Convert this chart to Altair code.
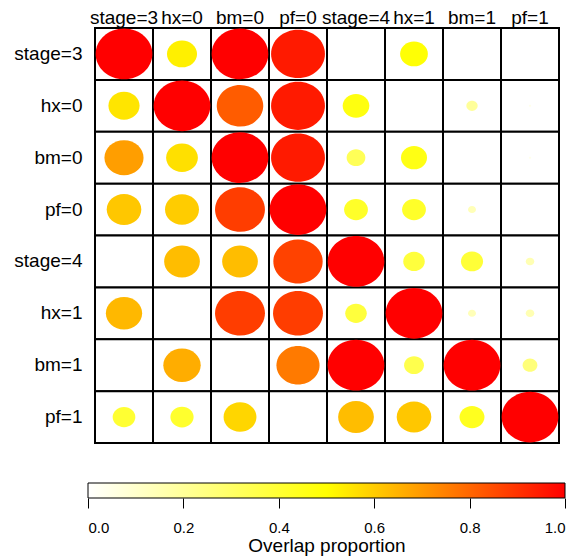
import altair as alt
import pandas as pd

labels = ["stage=3", "hx=0", "bm=0", "pf=0", "stage=4", "hx=1", "bm=1", "pf=1"]

row_stage3 = [1.00, 0.53, 1.00, 0.95, 0.00, 0.49, 0.00, 0.02]
row_hx0 = [0.55, 1.00, 0.82, 0.95, 0.47, 0.00, 0.20, 0.04]
row_bm0 = [0.69, 0.56, 1.00, 0.95, 0.33, 0.46, 0.00, 0.04]
row_pf0 = [0.61, 0.60, 0.88, 1.00, 0.42, 0.42, 0.14, 0.00]
row_stage4 = [0.00, 0.63, 0.63, 0.87, 1.00, 0.38, 0.39, 0.15]
row_hx1 = [0.64, 0.00, 0.88, 0.88, 0.38, 1.00, 0.14, 0.15]
row_bm1 = [0.00, 0.66, 0.00, 0.76, 1.00, 0.35, 1.00, 0.26]
row_pf1 = [0.40, 0.41, 0.58, 0.00, 0.63, 0.61, 0.44, 1.00]

matrix = [row_stage3, row_hx0, row_bm0, row_pf0, row_stage4, row_hx1, row_bm1, row_pf1]

color_domain = [0.0, 0.5, 1.0]
color_range = ["#FFFFFF", "#FFFF00", "#FF0000"]
legend_ticks = [0.0, 0.2, 0.4, 0.6, 0.8, 1.0]

records = []
for r, rl in enumerate(labels):
    for c, cl in enumerate(labels):
        records.append({"row": rl, "col": cl, "value": matrix[r][c]})
df = pd.DataFrame(records)

FONT = "Liberation Sans"
ellipse = "M-1,0 A1,0.894 0 1,1 1,0 A1,0.894 0 1,1 -1,0 Z"

xenc = alt.X("col:N", sort=labels, scale=alt.Scale(paddingInner=0, paddingOuter=0),
             axis=alt.Axis(orient="top", title=None, domain=False, ticks=False, labelAngle=0,
                           labelFontSize=19, labelFont=FONT, labelColor="black",
                           labelPadding=1, labelOverlap=False, labelBound=False))
yenc = alt.Y("row:N", sort=labels, scale=alt.Scale(paddingInner=0, paddingOuter=0),
             axis=alt.Axis(title=None, domain=False, ticks=False, labelFontSize=19,
                           labelFont=FONT, labelColor="black", labelPadding=13))

base = alt.Chart(df)
cells = base.mark_rect(fill="white", stroke="black", strokeWidth=2).encode(x=xenc, y=yenc)
dots = base.mark_point(filled=True, opacity=1, strokeWidth=0, shape=ellipse).encode(
    x=alt.X("col:N", sort=labels),
    y=alt.Y("row:N", sort=labels),
    color=alt.Color("value:Q", scale=alt.Scale(domain=color_domain, range=color_range,
                                                interpolate="rgb"), legend=None),
    size=alt.Size("value:Q", scale=alt.Scale(type="pow", exponent=2, domain=[0, 1],
                                              range=[0, 3215]), legend=None),
)
main = alt.layer(cells, dots).properties(width=464, height=415)

bar_df = pd.DataFrame({"lo": [legend_ticks[0]], "hi": [legend_ticks[-1]]})
grad = alt.Gradient(
    gradient="linear",
    stops=[alt.GradientStop(color=col, offset=off) for col, off in zip(color_range, color_domain)],
    x1=0, x2=1, y1=0, y2=0,
)
colorbar = alt.Chart(bar_df).mark_rect(fill=grad, stroke="black", strokeWidth=1).encode(
    x=alt.X("lo:Q", scale=alt.Scale(domain=[0, 1], range=[-7, 470], nice=False, zero=False),
            axis=alt.Axis(values=legend_ticks, format=".1f", domain=False, grid=False,
                          tickSize=10, tickColor="black", tickWidth=1,
                          labelFontSize=15, labelFont=FONT, labelColor="black", labelPadding=12,
                          title="Overlap proportion", titleFontSize=19, titleFont=FONT,
                          titleFontWeight="normal", titleColor="black", titlePadding=1)),
    x2="hi:Q",
).properties(width=464, height=15)

chart = alt.vconcat(main, colorbar, spacing=38).properties(
    padding={"left": 13, "top": 8, "right": 5, "bottom": 5}
).configure_view(stroke=None)

chart.save("out.html", embed_options={"renderer": "svg", "actions": False})
